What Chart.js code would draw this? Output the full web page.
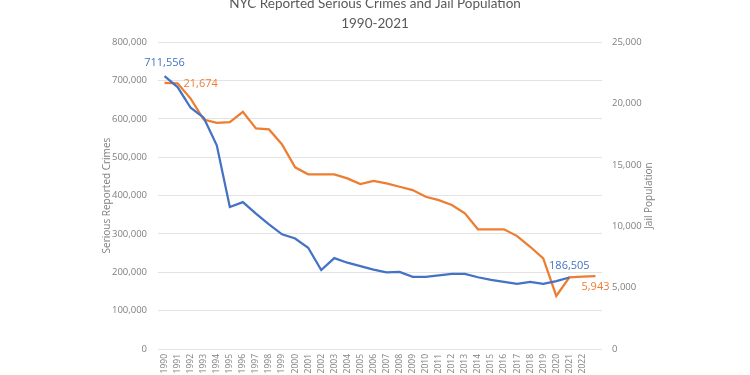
<!DOCTYPE html>
<html>
<head>
<meta charset="utf-8">
<script src="https://cdn.jsdelivr.net/npm/chart.js@4/dist/chart.umd.min.js"></script>
<style>
  html, body { margin: 0; padding: 0; background: #fff; overflow: hidden; }
  #wrap { width: 750px; height: 375px; position: relative; }
</style>
</head>
<body>
<div id="wrap"><canvas id="c" width="750" height="375"></canvas></div>
<script>
// NYC serious crimes vs jail population, 1990-2023
const years = ['1990','1991','1992','1993','1994','1995','1996','1997','1998','1999',
  '2000','2001','2002','2003','2004','2005','2006','2007','2008','2009',
  '2010','2011','2012','2013','2014','2015','2016','2017','2018','2019',
  '2020','2021','2022',''];

const crimes = [711556, 683000, 629000, 603000, 531000, 370000, 383000, 353000, 325000, 299000,
  288000, 264000, 206000, 237000, 225000, 216000, 207000, 200000, 201000, 188000,
  188000, 192000, 196000, 196000, 187000, 180000, 175000, 170000, 175000, 170000,
  177000, 186505, null, null];

const jail = [21674, 21650, 20400, 18700, 18430, 18480, 19320, 17970, 17890, 16670,
  14800, 14230, 14230, 14230, 13900, 13440, 13700, 13490, 13220, 12950,
  12400, 12130, 11730, 11050, 9750, 9750, 9750, 9200, 8330, 7390,
  4320, 5840, 5890, 5943];

const leftTicks  = { min: 0, max: 800000, step: 100000 };
const rightTicks = { min: 0, max: 25000, step: 5000 };

const BLUE = '#4472c4';
const ORANGE = '#ed7d31';
const GREY = '#7f7f7f';

// which points carry a value label: [dataset, index, dx, dy, align]
const pointLabels = [
  [0, 0, 0, -13, 'center'],
  [0, 31, 0, -12, 'center'],
  [1, 0, 19, 1, 'left'],
  [1, 33, 0, 11, 'center'],
];

const fmt = v => v.toLocaleString('en-US');

const valueLabels = {
  id: 'valueLabels',
  afterDatasetsDraw(chart) {
    const ctx = chart.ctx;
    ctx.save();
    ctx.font = '11px "Open Sans"';
    ctx.textBaseline = 'middle';
    pointLabels.forEach(([ds, i, dx, dy, align]) => {
      const pt = chart.getDatasetMeta(ds).data[i];
      const v = chart.data.datasets[ds].data[i];
      ctx.fillStyle = chart.data.datasets[ds].borderColor;
      ctx.textAlign = align;
      ctx.fillText(fmt(v), pt.x + dx, pt.y + dy);
    });
    ctx.restore();
  }
};

// right axis title, read bottom-to-top like the Excel original
const rightTitle = {
  id: 'rightTitle',
  afterDraw(chart) {
    const s = chart.scales.y2;
    const ctx = chart.ctx;
    ctx.save();
    ctx.translate(s.left + 47, (chart.chartArea.top + chart.chartArea.bottom) / 2);
    ctx.rotate(-Math.PI / 2);
    ctx.font = '10px "Open Sans"';
    ctx.fillStyle = GREY;
    ctx.textAlign = 'center';
    ctx.textBaseline = 'middle';
    ctx.fillText('Jail Population', 0, 0);
    ctx.restore();
  }
};

new Chart(document.getElementById('c'), {
  type: 'line',
  data: {
    labels: years,
    datasets: [
      {
        label: 'Serious Reported Crimes',
        data: crimes,
        yAxisID: 'y',
        borderColor: BLUE,
        backgroundColor: BLUE,
        borderWidth: 2.25,
        pointRadius: 0,
        tension: 0,
      },
      {
        label: 'Jail Population',
        data: jail,
        yAxisID: 'y2',
        borderColor: ORANGE,
        backgroundColor: ORANGE,
        borderWidth: 2.25,
        pointRadius: 0,
        tension: 0,
      },
    ],
  },
  options: {
    responsive: false,
    animation: false,
    devicePixelRatio: 1,
    layout: { padding: { top: -6, left: 0, right: 0, bottom: 0 } },
    plugins: {
      legend: { display: false },
      tooltip: { enabled: false },
      title: {
        display: true,
        text: ['NYC Reported Serious Crimes and Jail Population', '1990-2021'],
        color: '#595959',
        font: { family: 'Lato', size: 13.5, weight: 'normal', lineHeight: 1.45 },
        padding: { top: 0, bottom: 9 },
      },
    },
    scales: {
      x: {
        offset: true,
        grid: { display: false, drawTicks: false },
        border: { display: false },
        ticks: {
          autoSkip: false, maxRotation: 90, minRotation: 90, padding: 5,
          color: GREY, font: { family: 'Open Sans', size: 8.5 },
        },
        afterFit: s => { s.height = 26; },
      },
      y: {
        position: 'left',
        min: leftTicks.min, max: leftTicks.max,
        grid: { color: '#e3e3e3', drawTicks: false, lineWidth: 1 },
        border: { display: false },
        ticks: {
          stepSize: leftTicks.step, padding: 11,
          color: GREY, font: { family: 'Open Sans', size: 9.5 },
          callback: v => fmt(v),
        },
        title: {
          display: true, text: 'Serious Reported Crimes',
          color: GREY, font: { family: 'Open Sans', size: 10 },
          padding: { top: 101, bottom: 0 },
        },
        afterFit: s => { s.width = 158; },
      },
      y2: {
        position: 'right',
        min: rightTicks.min, max: rightTicks.max,
        grid: { display: false, drawTicks: false },
        border: { display: false },
        ticks: {
          stepSize: rightTicks.step, padding: 10,
          color: GREY, font: { family: 'Open Sans', size: 9.5 },
          callback: v => fmt(v),
        },
        afterFit: s => { s.width = 148; },
      },
    },
  },
  plugins: [valueLabels, rightTitle],
});
</script>
</body>
</html>
